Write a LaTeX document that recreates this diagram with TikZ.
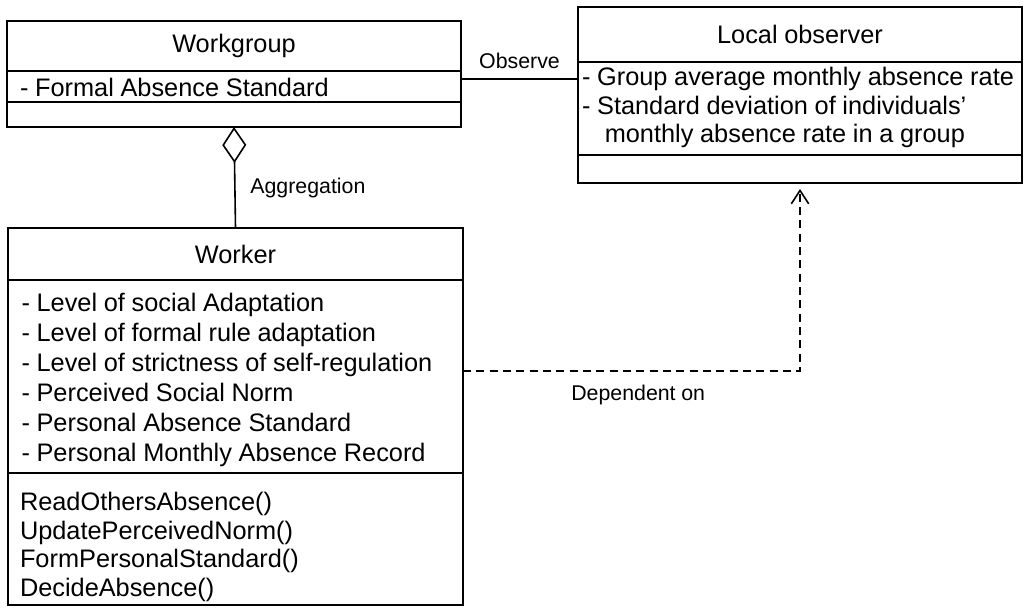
\documentclass[tikz,border=0pt]{standalone}
\usepackage{fontspec}
\setmainfont{Liberation Sans}[WordSpace=0.95]
\usetikzlibrary{arrows.meta}

% compartment text: width, downward shift, row stretch, rows
\newcommand{\compartlines}[4]{\makebox[#1][l]{\raisebox{-#2}[\height][\depth]{%
    \renewcommand{\arraystretch}{#3}\begin{tabular}{@{}l@{}}#4\end{tabular}}}}

\begin{document}
\begin{tikzpicture}[x=0.75pt, y=-0.75pt,
        compart/.style={draw, line width=1.5pt, inner sep=0pt, outer sep=0pt,
            font=\fontsize{19}{22}\selectfont},
        linklabel/.style={inner sep=2pt, font=\fontsize{16}{19}\selectfont},
        link/.style={line width=1.2pt}]
    \useasboundingbox (0,0) rectangle (1024,607);

    % Workgroup class
    \node[compart, anchor=north west, minimum width=340.5pt, minimum height=37.5pt] (wgname) at (7,21) {Workgroup};
    \node[compart, anchor=north, minimum width=340.5pt, minimum height=23.25pt] (wgattr) at (wgname.south)
        {\compartlines{321pt}{3pt}{1}{- Formal Absence Standard}};
    \node[compart, anchor=north, minimum width=340.5pt, minimum height=18.75pt] (wgops) at (wgattr.south) {};

    % Local observer class
    \node[compart, anchor=north west, minimum width=333pt, minimum height=41.25pt] (loname) at (578,7) {Local observer};
    \node[compart, anchor=north, minimum width=333pt, minimum height=69.75pt] (loattr) at (loname.south)
        {\compartlines{327pt}{0pt}{0.97}{- Group average monthly absence rate\\- Standard deviation of individuals’\\\hspace*{0.9em}monthly absence rate in a group}};
    \node[compart, anchor=north, minimum width=333pt, minimum height=21pt] (loops) at (loattr.south) {};

    % Worker class
    \node[compart, anchor=north west, minimum width=341.25pt, minimum height=39pt] (wkname) at (8,228) {Worker};
    \node[compart, anchor=north, minimum width=341.25pt, minimum height=144.75pt] (wkattr) at (wkname.south)
        {\compartlines{321pt}{3pt}{1.02}{- Level of social Adaptation\\- Level of formal rule adaptation\\- Level of strictness of self-regulation\\- Perceived Social Norm\\- Personal Absence Standard\\- Personal Monthly Absence Record}};
    \node[compart, anchor=north, minimum width=341.25pt, minimum height=99pt] (wkops) at (wkattr.south)
        {\compartlines{323.25pt}{6.5pt}{0.97}{ReadOthersAbsence()\\UpdatePerceivedNorm()\\FormPersonalStandard()\\DecideAbsence()}};

    \draw[link, -{Diamond[open, length=27pt, width=18pt]}] (wkname.north) -- node[linklabel, right=9pt, pos=0.4] {Aggregation} (wgops.south);
    \draw[link] ([yshift=-6pt]wgattr.north east) -- node[linklabel, above=5pt] {Observe} ([yshift=-6pt]wgattr.north east -| loattr.west);
    \draw[link, dash pattern=on 6pt off 4pt, -{Straight Barb[length=10pt, width=13pt]}, shorten >=4.5pt]
        ([yshift=4pt]wkattr.east) -| node[linklabel, below=8pt, pos=0.25, xshift=5pt] {Dependent on} (loops.south);
\end{tikzpicture}
\end{document}
